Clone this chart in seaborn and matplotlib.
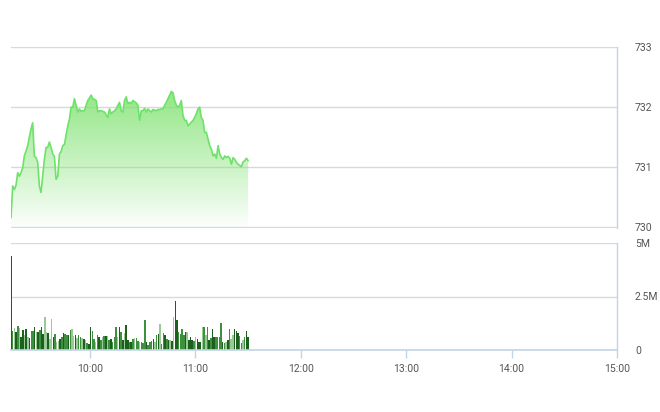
import numpy as np
import pandas as pd
import seaborn as sns
import matplotlib.pyplot as plt
from matplotlib.colors import LinearSegmentedColormap

# --- data (intraday, 09:15 -> 11:30) ---
price = [730.16, 730.69, 730.63, 730.70, 730.91, 730.85, 730.91, 730.99, 731.19, 731.27,
         731.36, 731.50, 731.64, 731.74, 731.19, 731.16, 731.08, 730.69, 730.58, 730.85,
         731.13, 731.33, 731.33, 731.42, 731.33, 731.22, 731.18, 730.80, 730.85, 731.22,
         731.26, 731.36, 731.38, 731.53, 731.69, 731.80, 732.00, 732.00, 732.14, 732.03,
         731.92, 731.97, 731.93, 731.94, 731.94, 732.03, 732.11, 732.15, 732.20, 732.14,
         732.13, 732.11, 731.92, 731.94, 731.94, 731.93, 731.92, 731.87, 731.83, 731.97,
         731.89, 731.92, 731.94, 731.97, 732.03, 732.08, 731.94, 731.92, 732.11, 732.17,
         732.06, 732.08, 732.06, 732.11, 732.09, 732.07, 732.03, 731.78, 731.94, 731.94,
         731.98, 731.92, 731.97, 731.94, 731.92, 731.96, 731.95, 731.94, 731.96, 731.96,
         731.97, 731.97, 732.03, 732.08, 732.14, 732.20, 732.26, 732.24, 732.11, 732.03,
         732.00, 732.03, 732.11, 731.86, 731.78, 731.78, 731.69, 731.72, 731.75, 731.78,
         731.83, 731.89, 731.97, 732.00, 731.83, 731.78, 731.58, 731.58, 731.47, 731.36,
         731.30, 731.19, 731.22, 731.15, 731.36, 731.22, 731.16, 731.13, 731.19, 731.16,
         731.18, 731.15, 731.05, 731.16, 731.13, 731.08, 731.05, 731.03, 731.01, 731.09,
         731.11, 731.15, 731.11]

# volume in millions of shares
volume = [4.41, 0.91, 1.02, 0.83, 1.13, 1.02, 0.63, 0.94, 0.70, 0.97,
          0.63, 0.55, 0.91, 0.91, 1.06, 0.86, 0.86, 0.94, 1.06, 0.75,
          1.53, 0.86, 0.81, 0.50, 1.44, 0.63, 0.75, 0.39, 0.40, 0.50,
          0.63, 0.81, 0.75, 0.70, 0.70, 0.94, 0.97, 0.66, 0.70, 0.55,
          0.70, 0.59, 0.58, 0.50, 0.47, 0.34, 0.28, 1.06, 0.91, 0.50,
          0.39, 0.70, 0.63, 0.47, 0.63, 0.66, 0.66, 0.66, 0.47, 0.50,
          0.39, 0.63, 1.06, 0.63, 1.06, 0.86, 0.47, 0.78, 1.17, 0.47,
          0.39, 0.39, 0.50, 0.55, 0.58, 0.44, 0.39, 0.38, 0.31, 1.38,
          0.39, 0.23, 0.39, 0.44, 0.50, 0.39, 0.70, 0.75, 1.22, 0.28,
          0.81, 0.70, 0.50, 0.47, 0.47, 0.44, 1.56, 2.30, 1.38, 0.86,
          0.75, 0.97, 0.70, 0.86, 0.86, 0.47, 0.59, 0.47, 0.44, 0.59,
          0.50, 0.39, 0.39, 1.06, 1.06, 0.70, 1.06, 0.47, 0.55, 0.97,
          0.63, 0.63, 0.63, 0.63, 1.28, 0.39, 0.34, 0.39, 0.47, 0.97,
          0.50, 0.70, 0.97, 0.91, 0.78, 0.66, 0.34, 0.47, 0.59, 0.91,
          0.63, 0.44]

shade = list("dmldmlddldldmmdldmddlldlldmlldmdmmdmlldlmmldlmddmmlmdmlmdlmdmmmldmdldd"
             "mdmlmmlmmmdmmmdlmdlmmdmdldlddmmmmdldddmldddlmlmdmddmmmmdmldmlldddmmlmdd")

hour_ticks = [10, 11, 12, 13, 14, 15]
hour_labels = ["10:00", "11:00", "12:00", "13:00", "14:00", "15:00"]
price_ticks = [730, 731, 732, 733]
vol_ticks = [0, 2.5, 5]
vol_labels = ["0", "2.5M", "5M"]

n = min(len(volume), len(shade))
volume = volume[:n]
shade = shade[:n]

t_price = pd.date_range("09:15", "11:30", periods=len(price))
t_vol = pd.date_range("09:15", "11:30", periods=n)
hrs = lambda t: t.hour + t.minute / 60 + t.second / 3600

df_p = pd.DataFrame({"h": hrs(t_price), "price": price})
df_v = pd.DataFrame({"h": hrs(t_vol), "vol": volume, "shade": shade})

sns.set_theme(style="white")
plt.rcParams['font.family'] = ['Roboto', 'DejaVu Sans']

fig = plt.figure(figsize=(6.6, 4.12), dpi=100)
ax1 = fig.add_axes([11 / 660, 1 - 228 / 412, 606 / 660, 181 / 412])
ax2 = fig.add_axes([11 / 660, 1 - 350 / 412, 606 / 660, 107 / 412])

grid_c = "#d9d9d9"
axis_c = "#c3d3e6"
text_c = "#555555"
line_c = "#6ee26a"

# --- price panel ---
sns.lineplot(data=df_p, x="h", y="price", color=line_c, lw=1.2, ax=ax1, zorder=3)
poly = ax1.fill_between(df_p["h"], df_p["price"], 730, color="none", lw=0)
cmap = LinearSegmentedColormap.from_list(
    "g", [(0.50, 0.89, 0.44, 0.02), (0.50, 0.89, 0.44, 0.45), (0.50, 0.89, 0.44, 0.85)])
grad = np.linspace(0, 1, 256).reshape(-1, 1)
im = ax1.imshow(grad, cmap=cmap, aspect="auto", origin="lower",
                extent=[df_p["h"].min(), df_p["h"].max(), 730, df_p["price"].max()],
                zorder=2)
im.set_clip_path(poly.get_paths()[0], transform=ax1.transData)

ax1.set_xlim(9.25, 15)
ax1.set_ylim(729.99, 733)
ax1.set_yticks(price_ticks)
ax1.set_yticklabels([str(v) for v in price_ticks])
ax1.set_xticks([])
ax1.set_xlabel("")
ax1.set_ylabel("")

# --- volume panel ---
pal = {"d": "#0f6d12", "m": "#2f9f30", "l": "#93d08f"}
sns.barplot(data=df_v, x="h", y="vol", hue="shade", palette=pal, native_scale=True,
            dodge=False, errorbar=None, legend=False, width=0.9, linewidth=0, ax=ax2)
ax2.set_xlim(9.25, 15)
ax2.set_ylim(0, 5)
ax2.set_yticks(vol_ticks)
ax2.set_yticklabels(vol_labels)
ax2.set_xticks(hour_ticks)
ax2.set_xticklabels(hour_labels)
ax2.set_xlabel("")
ax2.set_ylabel("")

for ax in (ax1, ax2):
    ax.yaxis.tick_right()
    ax.grid(axis="y", color=grid_c, lw=1)
    ax.set_axisbelow(True)
    for s in ("left", "top", "bottom"):
        ax.spines[s].set_visible(False)
    ax.spines["right"].set_color(axis_c)
    ax.spines["right"].set_linewidth(1)
    ax.tick_params(axis="y", length=0, pad=13, labelsize=7.5, labelcolor=text_c)

ax2.spines["bottom"].set_visible(True)
ax2.spines["bottom"].set_color(axis_c)
ax2.spines["bottom"].set_linewidth(1.2)
ax2.tick_params(axis="x", length=6, width=1, color=axis_c, direction="out",
                bottom=True, labelsize=7.5, labelcolor=text_c, pad=4)

fig.savefig("out.png", dpi=100, facecolor="white")
